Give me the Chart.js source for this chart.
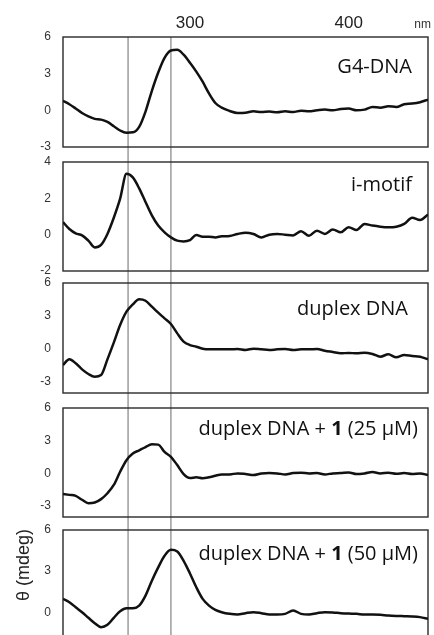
<!DOCTYPE html>
<html>
<head>
<meta charset="utf-8">
<script src="https://cdn.jsdelivr.net/npm/chart.js@4.4.0/dist/chart.umd.min.js"></script>
<style>
html, body { margin: 0; padding: 0; background: #fff; overflow: hidden; }
#wrap { position: relative; width: 434px; height: 635px; overflow: hidden; background: #fff; }
#wrap canvas { position: absolute; left: 0; }
</style>
</head>
<body>
<div id="wrap">
  <canvas id="guide"></canvas>
  <canvas id="p1"></canvas>
  <canvas id="p2"></canvas>
  <canvas id="p3"></canvas>
  <canvas id="p4"></canvas>
  <canvas id="p5"></canvas>
</div>
<script>
// wavelength (nm) - denser over the bands
const wavelength = [220,224,228,232,236,240,244,248,252,256,260,264,268,272,276,280,284,288,292,296,300,304,308,312,316,320,
  325,330,335,340,345,350,355,360,365,370,375,380,385,390,395,400,405,410,415,420,425,430,435,440,445,450];

// CD signal (mdeg)
const g4Dna = [0.78,0.5,0.15,-0.22,-0.5,-0.7,-0.76,-0.95,-1.3,-1.65,-1.83,-1.8,-1.35,-0.1,1.6,3.1,4.3,4.9,4.95,4.55,3.9,3.17,2.34,1.38,0.6,0.22,
  -0.05,-0.22,-0.2,-0.08,-0.14,-0.1,-0.16,-0.08,-0.14,-0.03,-0.08,0,0.06,0,0.11,0.14,0,0.06,0.28,0.22,0.33,0.28,0.5,0.55,0.66,0.88];
const iMotif = [0.69,0.31,0.07,-0.04,-0.33,-0.7,-0.56,0.04,0.93,1.98,3.35,3.15,2.55,1.8,1.06,0.5,0.13,-0.15,-0.33,-0.37,-0.3,-0.02,-0.11,-0.11,-0.15,-0.09,
  -0.07,0.04,0.11,0.04,-0.15,0,0.04,0,-0.04,0.19,-0.06,0.22,0.04,0.28,0.13,0.41,0.26,0.59,0.5,0.44,0.41,0.44,0.59,0.93,0.81,1.11];
const duplexDna = [-1.45,-0.94,-1.3,-1.85,-2.27,-2.52,-2.36,-0.94,0.58,2.18,3.39,4.06,4.52,4.39,3.85,3.3,2.79,2.27,1.42,0.67,0.36,0.21,0.03,-0.03,-0.03,-0.03,
  -0.03,0,-0.09,0.03,-0.03,-0.09,-0.03,0,-0.09,-0.03,-0.03,0,-0.15,-0.27,-0.39,-0.36,-0.39,-0.33,-0.45,-0.7,-0.48,-0.76,-0.55,-0.64,-0.7,-0.94];
const duplex25 = [-1.88,-1.97,-2.06,-2.42,-2.73,-2.67,-2.36,-1.82,-1.06,0.15,1.21,1.82,2.12,2.42,2.67,2.64,1.97,1.52,0.76,-0.06,-0.42,-0.36,-0.45,-0.36,-0.21,-0.09,
  -0.09,0,-0.06,-0.15,0,0.03,0,-0.09,0.03,0.06,0,0.03,-0.09,0,0.03,0.09,-0.06,0,0.12,0,0.06,-0.03,0.03,-0.06,0,-0.15];
const duplex50 = [0.97,0.73,0.36,0,-0.41,-0.8,-1.09,-0.92,-0.41,0.07,0.29,0.29,0.48,1.21,2.3,3.27,4.12,4.55,4.43,3.75,2.83,1.82,0.97,0.48,0.17,0,
  -0.12,-0.17,-0.07,0,-0.07,-0.17,-0.17,-0.12,0.12,-0.12,-0.17,-0.07,0,-0.02,-0.07,-0.1,-0.12,-0.17,-0.17,-0.19,-0.24,-0.27,-0.29,-0.31,-0.36,-0.48];

const topTicks = [300, 400];
const markerNm = [261, 288];

const panelSeries = [g4Dna, iMotif, duplexDna, duplex25, duplex50];
const panelMin = [-3, -2, -4, -4, -4];
const panelMax = [6, 4, 6, 6, 6];
const panelTicks = [[-3, 0, 3, 6], [-2, 0, 2, 4], [-3, 0, 3, 6], [-3, 0, 3, 6], [-3, 0, 3, 6]];
const panelNames = [
  [['G4-DNA', false]],
  [['i-motif', false]],
  [['duplex DNA', false]],
  [['duplex DNA + ', false], ['1', true], [' (25 µM)', false]],
  [['duplex DNA + ', false], ['1', true], [' (50 µM)', false]]
];

// layout (px)
const boxTop = [37, 162, 283, 408, 530];
const boxH = [110, 109, 110, 109, 137];
const nameRight = [16, 16, 20, 10, 10];
const nameBase = [36, 29, 32, 27, 30];
const W = 434, PLOT_L = 63, PLOT_R = 428, PAD = 10;

const tickFont = { family: '"Liberation Sans", Arial, sans-serif', size: 12 };

const framePlugin = {
  id: 'frame',
  beforeDatasetsDraw(chart) {
    const a = chart.chartArea, ctx = chart.ctx;
    ctx.save();
    ctx.strokeStyle = '#2a2a2a';
    ctx.lineWidth = 1.4;
    ctx.strokeRect(a.left, a.top, a.right - a.left, a.bottom - a.top);
    ctx.restore();
  }
};

const namePlugin = {
  id: 'panelName',
  afterDraw(chart, args, opts) {
    const ctx = chart.ctx, a = chart.chartArea;
    const reg = '20px "Open Sans", sans-serif', bold = 'bold 20px "Open Sans", sans-serif';
    ctx.save();
    ctx.fillStyle = '#111';
    ctx.textBaseline = 'alphabetic';
    let total = 0;
    opts.parts.forEach(p => { ctx.font = p[1] ? bold : reg; total += ctx.measureText(p[0]).width; });
    let x = a.right - opts.right - total;
    opts.parts.forEach(p => {
      ctx.font = p[1] ? bold : reg;
      ctx.fillText(p[0], x, a.top + opts.base);
      x += ctx.measureText(p[0]).width;
    });
    ctx.restore();
  }
};

// background chart: top wavelength axis and the two marker lines
const guideText = {
  id: 'guideText',
  afterDraw(chart) {
    const ctx = chart.ctx;
    ctx.save();
    ctx.fillStyle = '#333';
    ctx.font = '12px "Liberation Sans", Arial, sans-serif';
    ctx.textAlign = 'right';
    ctx.textBaseline = 'alphabetic';
    ctx.fillText('nm', 431, 28);
    ctx.translate(24, 565);
    ctx.rotate(-Math.PI / 2);
    ctx.textAlign = 'center';
    ctx.textBaseline = 'middle';
    ctx.fillStyle = '#222';
    ctx.font = '18px "Liberation Sans", Arial, sans-serif';
    ctx.fillText('θ (mdeg)', 0, 0);
    ctx.restore();
  }
};

const gc = document.getElementById('guide');
gc.width = W; gc.height = 635; gc.style.top = '0px';
new Chart(gc, {
  type: 'line',
  data: {
    datasets: markerNm.map(v => ({
      data: [{ x: v, y: 0 }, { x: v, y: 1 }],
      borderColor: '#8c8c8c',
      borderWidth: 1.3,
      pointRadius: 0
    }))
  },
  options: {
    responsive: false,
    animation: false,
    layout: { padding: { left: PLOT_L, right: W - PLOT_R, top: 0, bottom: 0 } },
    plugins: { legend: { display: false }, tooltip: { enabled: false } },
    scales: {
      x: {
        type: 'linear', position: 'top', min: 220, max: 450,
        grid: { display: false, drawTicks: false },
        border: { display: false },
        ticks: { font: { family: '"Liberation Sans", Arial, sans-serif', size: 17 }, color: '#222', padding: 3 },
        afterBuildTicks: s => { s.ticks = topTicks.map(v => ({ value: v })); },
        afterFit: s => { s.height = boxTop[0]; s.paddingLeft = 0; s.paddingRight = 0; }
      },
      y: { display: false, min: 0, max: 1 }
    }
  },
  plugins: [guideText]
});

panelSeries.forEach((series, i) => {
  const cv = document.getElementById('p' + (i + 1));
  cv.width = W;
  cv.height = boxH[i] + 2 * PAD;
  cv.style.top = (boxTop[i] - PAD) + 'px';
  new Chart(cv, {
    type: 'line',
    data: {
      datasets: [{
        data: series.map((v, k) => ({ x: wavelength[k], y: v })),
        borderColor: '#111',
        borderWidth: 2.5,
        pointRadius: 0,
        cubicInterpolationMode: 'monotone'
      }]
    },
    options: {
      responsive: false,
      animation: false,
      layout: { padding: { left: 0, right: W - PLOT_R, top: PAD, bottom: PAD } },
      plugins: {
        legend: { display: false },
        tooltip: { enabled: false },
        panelName: { parts: panelNames[i], right: nameRight[i], base: nameBase[i] }
      },
      scales: {
        x: { type: 'linear', min: 220, max: 450, display: false },
        y: {
          min: panelMin[i], max: panelMax[i],
          grid: { display: false, drawTicks: false },
          border: { display: false },
          ticks: { font: tickFont, color: '#333', padding: 12 },
          afterBuildTicks: s => { s.ticks = panelTicks[i].map(v => ({ value: v })); },
          afterFit: s => { s.width = PLOT_L; s.paddingTop = 0; s.paddingBottom = 0; }
        }
      }
    },
    plugins: [framePlugin, namePlugin]
  });
});
</script>
</body>
</html>
